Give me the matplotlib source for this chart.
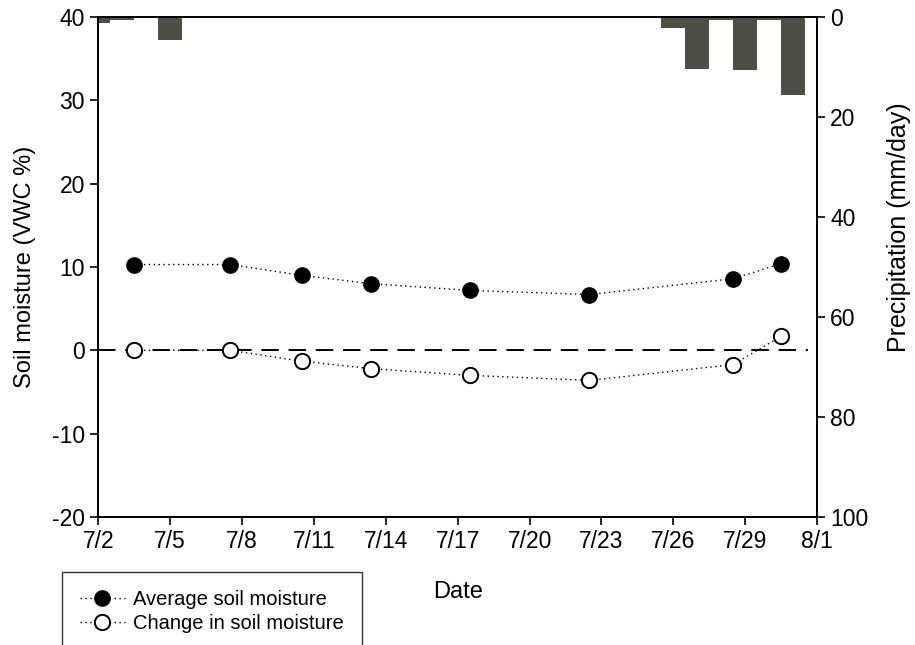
import matplotlib
matplotlib.use("Agg")
import matplotlib.pyplot as plt
import numpy as np

plt.rcParams['font.family'] = ['Liberation Sans', 'DejaVu Sans']
plt.rcParams['axes.unicode_minus'] = False

# days after 7/2
sample_days = [1.5, 5.5, 8.5, 11.4, 15.5, 20.5, 26.5, 28.5]
avg_moisture = [10.3, 10.3, 9.0, 8.0, 7.2, 6.7, 8.6, 10.4]
change_moisture = [0.0, 0.0, -1.3, -2.2, -3.0, -3.6, -1.7, 1.7]

rain_days = [0, 1, 3, 24, 25, 26, 27, 28, 29]
rain_mm = [1.2, 0.6, 4.6, 2.2, 10.3, 0.5, 10.6, 0.5, 15.5]

tick_days = np.arange(0, 31, 3)
tick_labels = ["7/2", "7/5", "7/8", "7/11", "7/14", "7/17", "7/20",
               "7/23", "7/26", "7/29", "8/1"]

fig = plt.figure(figsize=(9.15, 6.45), dpi=100)
ax = fig.add_axes([0.1074, 0.1984, 0.7856, 0.7752])
ax2 = ax.twinx()

# precipitation bars hanging from the top
ax2.bar(rain_days, rain_mm, width=1.0, color="#4e4e46", edgecolor="none",
        align="center")
ax2.set_ylim(100, 0)
ax2.set_yticks([0, 20, 40, 60, 80, 100])
ax2.set_ylabel("Precipitation (mm/day)", fontsize=18)
ax2.yaxis.set_label_coords(1.097, 0.58)

ax.set_zorder(ax2.get_zorder() + 1)
ax.patch.set_visible(False)

ax.hlines(0, 0, 29.6, colors="black", linestyles=(0, (9, 5)), linewidth=1.4)
ax.plot(sample_days, avg_moisture, linestyle=(0, (1, 2.5)), color="black",
        linewidth=1, marker="o", markersize=11, markerfacecolor="black",
        markeredgecolor="black", label="Average soil moisture")
ax.plot(sample_days, change_moisture, linestyle=(0, (1, 2.5)), color="black",
        linewidth=1, marker="o", markersize=11, markerfacecolor="white",
        markeredgecolor="black", markeredgewidth=1.4,
        label="Change in soil moisture")

ax.set_xlim(0, 30)
ax.set_ylim(-20, 40)
ax.set_yticks([-20, -10, 0, 10, 20, 30, 40])
ax.set_xticks(tick_days)
ax.set_xticklabels(tick_labels)
ax.set_xlabel("Date", fontsize=17, labelpad=20)
ax.set_ylabel("Soil moisture (VWC %)", fontsize=17)
ax.yaxis.set_label_coords(-0.086, 0.5)

for a in (ax, ax2):
    a.tick_params(labelsize=16.5, length=6, width=1.2)
    for s in a.spines.values():
        s.set_linewidth(1.3)

leg = ax.legend(loc="upper left", bbox_to_anchor=(0.068, 0.113),
                bbox_transform=fig.transFigure, fontsize=14.5, frameon=True,
                fancybox=False, edgecolor="black", handlelength=2.2,
                borderpad=0.9, labelspacing=0.25, handletextpad=0.4,
                borderaxespad=0)
leg.get_frame().set_linewidth(1.0)

fig.savefig("out.png", dpi=100)
